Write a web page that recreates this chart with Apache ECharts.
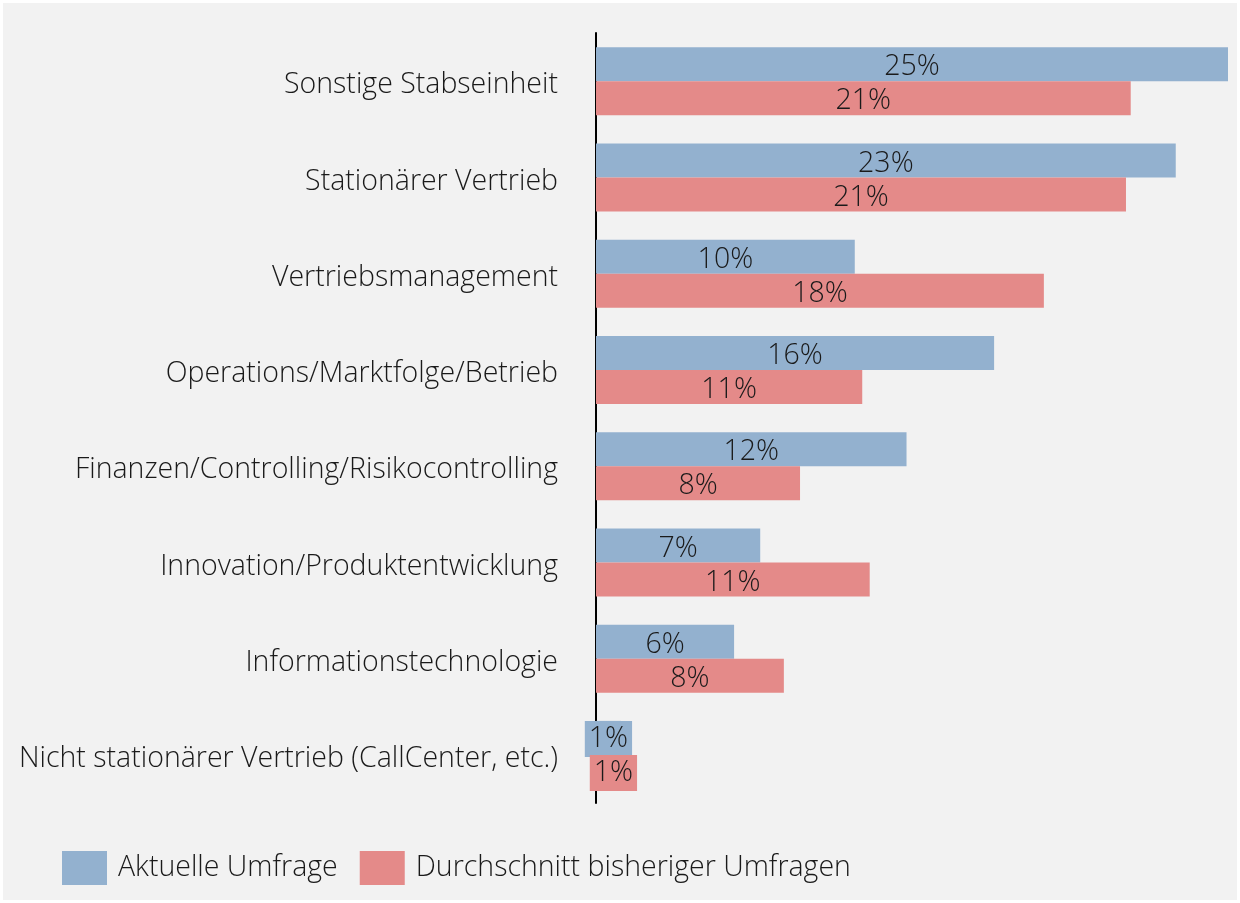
<!DOCTYPE html>
<html>
<head>
<meta charset="utf-8">
<script src="https://cdn.jsdelivr.net/npm/echarts@6/dist/echarts.min.js"></script>
<style>
  html, body { margin: 0; padding: 0; background: #ffffff; }
  #chart { position: absolute; left: 3px; top: 3px; width: 1234px; height: 897px; background: #f2f2f2; }
</style>
</head>
<body>
<div id="chart"></div>
<script>
// Daten (Prozentwerte)
const categories = [
  'Sonstige Stabseinheit',
  'Stationärer Vertrieb',
  'Vertriebsmanagement',
  'Operations/Marktfolge/Betrieb',
  'Finanzen/Controlling/Risikocontrolling',
  'Innovation/Produktentwicklung',
  'Informationstechnologie',
  'Nicht stationärer Vertrieb (CallCenter, etc.)'
];
const seriesNames = ['Aktuelle Umfrage', 'Durchschnitt bisheriger Umfragen'];
const aktuell = [25.4, 23.3, 10.4, 16.0, 12.48, 6.6, 5.55, 1.0];
const durchschnitt = [21.49, 21.3, 18.0, 10.7, 8.2, 11.0, 7.55, 1.4];

const colors = ['#93b1cf', '#e48a89'];
const fontFam = '"Open Sans", "Noto Sans", sans-serif';
const fs = 28.5;

// kleine Balken: Beschriftung mit farbigem Hintergrund (wie im Original)
function toData(arr, color) {
  return arr.map(function (v) {
    if (v < 2) {
      return { value: v, label: { backgroundColor: color, padding: [5, 4, 2, 4], offset: [0, 1] } };
    }
    return v;
  });
}

function barLabel() {
  return {
    show: true, position: 'inside', offset: [0, 3],
    fontSize: fs, fontWeight: 300, color: '#1a1a1a', fontFamily: fontFam,
    formatter: function (p) { return Math.round(p.value) + '%'; }
  };
}

const chart = echarts.init(document.getElementById('chart'));
chart.setOption({
  backgroundColor: '#f2f2f2',
  animation: false,
  textStyle: { fontFamily: fontFam },
  grid: { left: 593, right: 9, top: 30, height: 770 },
  legend: {
    left: 59, top: 848, padding: 0,
    itemWidth: 45, itemHeight: 34, itemGap: 22,
    icon: 'rect',
    textStyle: { fontSize: fs, fontWeight: 300, color: '#1a1a1a', fontFamily: fontFam,
      padding: [0, 0, 0, 6] },
    data: seriesNames
  },
  xAxis: {
    type: 'value', min: 0, max: 25.4,
    show: false
  },
  yAxis: {
    type: 'category', inverse: true, data: categories,
    axisLine: { show: true, lineStyle: { color: '#000', width: 2 } },
    axisTick: { show: false },
    axisLabel: {
      margin: 38,
      formatter: function (v) { return '{a|' + v + '}'; },
      rich: { a: { fontSize: fs, fontWeight: 300, color: '#1a1a1a', fontFamily: fontFam, padding: [8, 0, 0, 0] } }
    }
  },
  series: [
    {
      name: seriesNames[0], type: 'bar', data: toData(aktuell, colors[0]),
      itemStyle: { color: colors[0] },
      barWidth: 34, barGap: '0%',
      label: barLabel()
    },
    {
      name: seriesNames[1], type: 'bar', data: toData(durchschnitt, colors[1]),
      itemStyle: { color: colors[1] },
      barWidth: 34, barGap: '0%',
      label: barLabel()
    }
  ]
});
</script>
</body>
</html>
